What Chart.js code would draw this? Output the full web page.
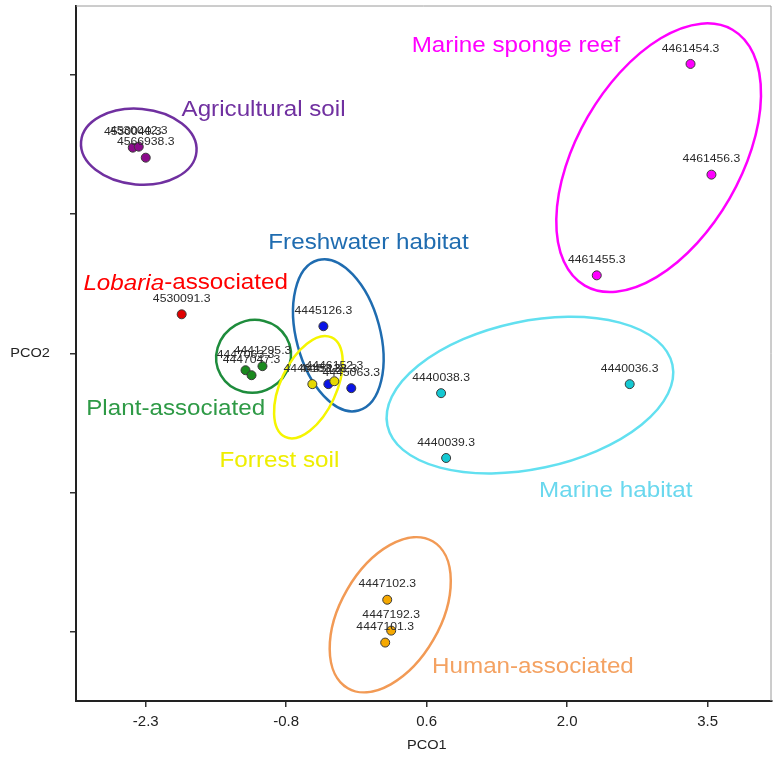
<!DOCTYPE html>
<html>
<head>
<meta charset="utf-8">
<script src="https://cdn.jsdelivr.net/npm/chart.js@4"></script>
<style>
  html, body { margin: 0; padding: 0; background: #ffffff; }
  canvas { display: block; }
</style>
</head>
<body>
<canvas id="c" width="777" height="767"></canvas>
<script>
// ---------- DATA ----------
const groupNames = ['Agricultural soil', 'Lobaria-associated', 'Plant-associated', 'Forrest soil',
                    'Freshwater habitat', 'Marine habitat', 'Marine sponge reef', 'Human-associated'];

const agriX = [-2.434, -2.372, -2.300];
const agriY = [1.478, 1.485, 1.406];
const agriIds = ['4530040.3', '4530042.3', '4566938.3'];

const lobX = [-1.929];
const lobY = [0.280];
const lobIds = ['4530091.3'];

const plantX = [-1.270, -1.208, -1.095];
const plantY = [-0.122, -0.158, -0.093];
const plantIds = ['4447063.3', '4447047.3', '4441295.3'];

const forestX = [-0.580, -0.353];
const forestY = [-0.222, -0.201];
const forestIds = ['4446153.3', '4446152.3'];

const freshX = [-0.466, -0.415, -0.178];
const freshY = [0.194, -0.222, -0.251];
const freshIds = ['4445126.3', '4445128.3', '4445063.3'];

const marineX = [0.749, 2.696, 0.801];
const marineY = [-0.287, -0.222, -0.753];
const marineIds = ['4440038.3', '4440036.3', '4440039.3'];

const spongeX = [3.324, 3.540, 2.356];
const spongeY = [2.080, 1.284, 0.560];
const spongeIds = ['4461454.3', '4461456.3', '4461455.3'];

const humanX = [0.193, 0.234, 0.172];
const humanY = [-1.772, -1.994, -2.080];
const humanIds = ['4447102.3', '4447192.3', '4447101.3'];

const xTickValues = [-2.3, -0.85, 0.6, 2.05, 3.5];
const xTickLabels = ['-2.3', '-0.8', '0.6', '2.0', '3.5'];
const yTickValues = [-2, -1, 0, 1, 2];

// confidence ellipses: centre (data units), semi-axes (x-axis units), rotation (deg)
const ellipseCX  = [-2.372, -1.187, -0.312, -0.621, 1.666, 2.995, 0.224];
const ellipseCY  = [1.485, -0.022, 0.129, -0.244, -0.301, 1.406, -1.880];
const ellipseA   = [0.598, 0.391, 0.804, 0.567, 1.504, 1.525, 0.876];
const ellipseB   = [0.391, 0.371, 0.433, 0.288, 0.762, 0.845, 0.515];
const ellipseRot = [5, -30, 75, -65, -12, -60, -60];
const ellipseGroup = [0, 2, 4, 3, 5, 6, 7];

// group label anchor positions (data units)
const labelX = [-1.084, -1.888, -1.991, -0.920, 0.000, 2.552, 1.522, 1.697];
const labelY = [1.750, 0.502, -0.402, -0.775, 0.796, -0.990, 2.209, -2.253];

// ---------- STYLE ----------
const pointColors   = ['#8b0a8b', '#e00000', '#1a8a1e', '#e6d800', '#0a14e6', '#14c8d2', '#ff00ff', '#f5a800'];
const ellipseColors = ['#7030a0', '#e00000', '#1e8c3c', '#f5f500', '#1f6cb0', '#62e0f0', '#ff00ff', '#f29a55'];
const labelColors   = ['#7030a0', '#ff0000', '#2e9a46', '#eeee00', '#1f6cb0', '#6ad8ee', '#ff00ff', '#f4a262'];

const groupX = [agriX, lobX, plantX, forestX, freshX, marineX, spongeX, humanX];
const groupY = [agriY, lobY, plantY, forestY, freshY, marineY, spongeY, humanY];
const groupIds = [agriIds, lobIds, plantIds, forestIds, freshIds, marineIds, spongeIds, humanIds];

const datasets = groupNames.map((name, g) => ({
  label: name,
  data: groupX[g].map((v, i) => ({ x: v, y: groupY[g][i] })),
  backgroundColor: pointColors[g],
  borderColor: '#3a3a3a',
  borderWidth: 1,
  pointRadius: 4.5,
  ids: groupIds[g]
}));

const FONT = '"Liberation Sans", Arial, sans-serif';

function stretchText(ctx, text, x, y, sx) {
  ctx.save();
  ctx.translate(x, y);
  ctx.scale(sx, 1);
  ctx.fillText(text, 0, 0);
  ctx.restore();
}

const overlay = {
  id: 'overlay',
  beforeDatasetsDraw(chart) {
    const { ctx, scales: { x, y }, chartArea: a } = chart;
    ctx.save();
    // frame top/right
    ctx.strokeStyle = '#9a9a9a';
    ctx.lineWidth = 1;
    ctx.beginPath();
    ctx.moveTo(a.left, a.top + 0.5);
    ctx.lineTo(a.right - 0.5, a.top + 0.5);
    ctx.lineTo(a.right - 0.5, a.bottom);
    ctx.stroke();
    // ellipses
    const pxPerX = Math.abs(x.getPixelForValue(1) - x.getPixelForValue(0));
    ellipseCX.forEach((cx, i) => {
      ctx.beginPath();
      ctx.ellipse(x.getPixelForValue(cx), y.getPixelForValue(ellipseCY[i]),
                  ellipseA[i] * pxPerX, ellipseB[i] * pxPerX,
                  ellipseRot[i] * Math.PI / 180, 0, Math.PI * 2);
      ctx.strokeStyle = ellipseColors[ellipseGroup[i]];
      ctx.lineWidth = 2.5;
      ctx.stroke();
    });
    ctx.restore();
  },
  afterDatasetsDraw(chart) {
    const { ctx, scales: { x, y }, chartArea: a } = chart;
    ctx.save();
    // point ids
    ctx.font = '10px ' + FONT;
    ctx.fillStyle = '#2a2a2a';
    ctx.textAlign = 'center';
    ctx.textBaseline = 'middle';
    chart.data.datasets.forEach((ds, g) => {
      const meta = chart.getDatasetMeta(g);
      meta.data.forEach((pt, i) => {
        stretchText(ctx, ds.ids[i], pt.x, pt.y - 15, 1.22);
      });
    });
    // group labels
    const sx = 1.1;
    groupNames.forEach((name, g) => {
      const px = x.getPixelForValue(labelX[g]);
      const py = y.getPixelForValue(labelY[g]);
      ctx.fillStyle = labelColors[g];
      ctx.textBaseline = 'middle';
      if (g === 1) {
        const parts = [['Lobaria', 'italic 22px ' + FONT], ['-associated', '22px ' + FONT]];
        let total = 0;
        parts.forEach(p => { ctx.font = p[1]; total += ctx.measureText(p[0]).width * sx; });
        let cx = px - total / 2;
        ctx.textAlign = 'left';
        parts.forEach(p => {
          ctx.font = p[1];
          stretchText(ctx, p[0], cx, py, sx);
          cx += ctx.measureText(p[0]).width * sx;
        });
      } else {
        ctx.font = '22px ' + FONT;
        ctx.textAlign = 'center';
        stretchText(ctx, name, px, py, sx);
      }
    });
    // axis titles
    ctx.fillStyle = '#222222';
    ctx.font = '13px ' + FONT;
    ctx.textAlign = 'center';
    ctx.textBaseline = 'middle';
    stretchText(ctx, 'PCO1', (a.left + a.right) / 2 + 3, 745, 1.12);
    stretchText(ctx, 'PCO2', 30, (a.top + a.bottom) / 2, 1.12);
    ctx.restore();
  }
};

new Chart(document.getElementById('c'), {
  type: 'scatter',
  data: { datasets },
  options: {
    responsive: false,
    animation: false,
    layout: { padding: { top: 4, right: 5, left: 0, bottom: 0 } },
    plugins: { legend: { display: false }, tooltip: { enabled: false } },
    scales: {
      x: {
        type: 'linear',
        min: -3.02,
        max: 4.16,
        afterBuildTicks: s => { s.ticks = xTickValues.map(v => ({ value: v })); },
        ticks: {
          callback: (v, i) => xTickLabels[i],
          font: { family: FONT, size: 15 },
          color: '#222222',
          padding: 6,
          maxRotation: 0
        },
        grid: { drawOnChartArea: false, drawTicks: true, tickLength: 6, color: '#333333', lineWidth: 1.5 },
        border: { display: true, color: '#222222', width: 2 },
        afterFit: s => { s.height = 66; }
      },
      y: {
        type: 'linear',
        min: -2.5,
        max: 2.5,
        afterBuildTicks: s => { s.ticks = yTickValues.map(v => ({ value: v })); },
        ticks: { callback: () => '', font: { size: 1 }, padding: 0 },
        grid: { drawOnChartArea: false, drawTicks: true, tickLength: 6, color: '#333333', lineWidth: 1.5 },
        border: { display: true, color: '#222222', width: 2 },
        afterFit: s => { s.width = 76; }
      }
    }
  },
  plugins: [overlay]
});
</script>
</body>
</html>
